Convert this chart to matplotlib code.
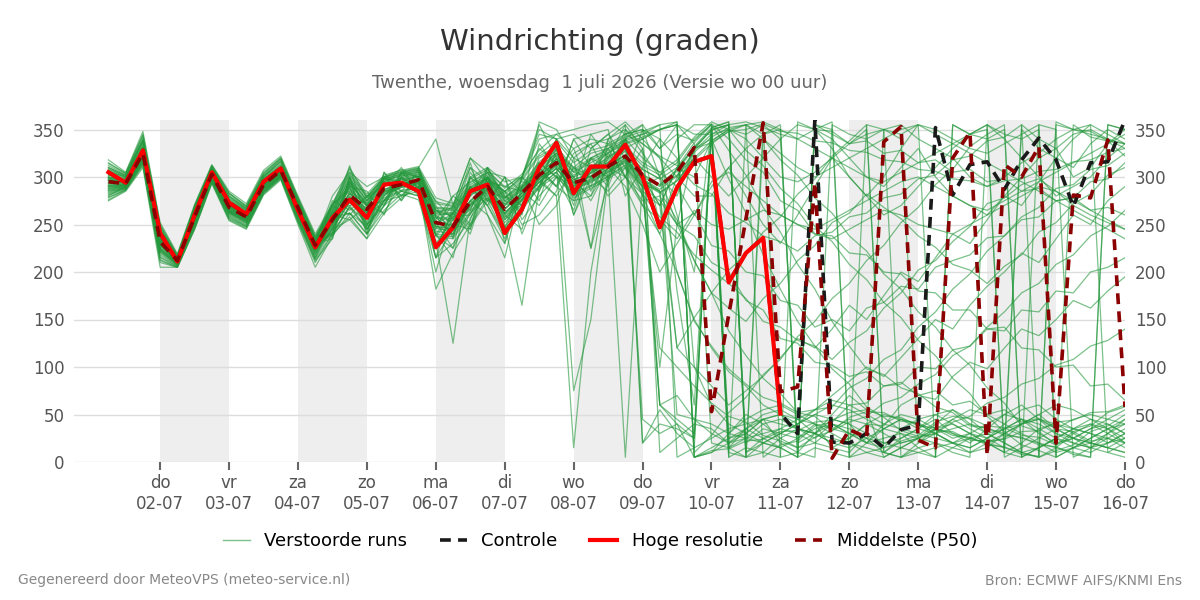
import matplotlib
matplotlib.use('Agg')
import matplotlib.pyplot as plt
from matplotlib.lines import Line2D
import pandas as pd

# ---------------- data ----------------
times = pd.date_range('2026-07-01 06:00', periods=60, freq='6h')
day_ticks = pd.date_range('2026-07-02', '2026-07-16', freq='D')
day_names = ['do', 'vr', 'za', 'zo', 'ma', 'di', 'wo', 'do', 'vr', 'za', 'zo', 'ma', 'di', 'wo', 'do']
shade_days = day_ticks[0:14:2]

hres = [305,294,328,241,211,260,305,273,261,295, 309,265,226,257,276,257,292,294,285,226,
        247,285,292,241,266,310,336,283,311,311, 334,300,247,289,316,322,189,220,236,51]

control = hres[:40] + [30,360,21,20,30,15,34,39,352,281, 313,316,287,318,341,318,269,315,316,360]

p50 = [295,293,325,232,212,258,303,268,258,292, 307,268,228,255,281,266,288,292,297,252,
       248,274,290,266,283,302,315,294,299,311, 322,302,291,305,331,53,155,256,357,74,
       79,294,4,34,26,337,353,23,15,320, 347,7,313,300,332,20,281,278,339,58]

# each member: 60 six-hourly values (deg)
members = [
 [298,294,328,235,211,260,305,270,259,294,309,266,226, 248,292,258,280,300,290,240,262,285,300,255,275,320,330,285,310,325,340,320,305,290,330, 350,355,20,35,30,25,40,15,10,30,350,340,20,30,45,35,25,15,355,340,330,300,310,335,350],
 [290,291,322,228,213,255,300,265,255,290,305,262,230, 262,270,275,295,285,305,258,240,300,285,278,295,290,325,310,300,330,345,355,10,25,40, 35,20,30,45,50,35,25,40,30,20,15,35,45,50,40,30,25,35,45,30,20,25,35,40,30],
 [305,300,335,240,214,265,308,275,265,298,312,272,232, 240,300,262,272,305,288,230,255,265,305,280,260,335,310,300,320,330,300,282,258,242,218, 202,188,172,148,142,128,122,108,126,138,162,178,202,212,232,248,272,278,292,298,285,270,260,252,245],
 [285,288,318,222,208,252,298,262,252,286,302,258,220, 258,262,240,265,282,276,215,270,250,295,290,285,298,280,310,290,340,355,20,40,35,25, 345,5,15,10,25,35,30,45,40,20,25,30,15,5,355,345,350,10,20,35,40,30,20,15,25],
 [310,302,340,245,216,268,310,280,268,302,318,275,235, 270,305,280,300,308,300,262,268,310,295,285,300,350,340,345,330,345,358,340,320,300,280, 280,310,330,345,355,5,350,340,320,300,290,310,330,300,280,270,260,280,300,320,330,345,350,340,330],
 [280,290,315,215,206,248,296,258,248,284,300,255,215, 245,275,250,275,280,295,238,225,262,278,255,275,295,280,15,200,305,315,290,60,70,45, 30,20,35,50,55,45,30,20,25,40,50,45,35,30,20,15,25,40,55,60,45,35,30,20,25],
 [300,297,332,238,212,262,304,272,262,295,308,270,232, 272,285,270,298,295,302,265,250,280,300,270,290,310,325,305,300,315,330,340,350,355,345, 345,350,340,320,300,295,305,320,335,345,350,355,340,330,320,300,290,300,315,325,340,350,355,345,335],
 [292,292,326,230,210,258,302,268,258,292,306,266,228, 255,295,270,290,298,282,250,262,290,270,235,290,300,305,330,285,320,335,300,60,40,25, 350,15,5,355,340,20,30,40,35,25,10,5,20,35,40,30,20,10,350,330,320,340,355,10,20],
 [315,304,345,250,218,270,312,283,270,305,320,278,238, 270,310,278,300,306,310,340,270,320,305,290,300,340,345,330,340,335,345,350,300,250,212, 178,162,148,172,188,212,228,252,262,282,268,256,238,226,208,202,188,206,218,242,252,272,282,302,310],
 [276,286,312,210,205,245,294,255,246,282,298,252,210, 240,258,235,262,278,290,215,230,255,300,250,165,290,305,280,290,300,312,285,270,120,100, 80,60,75,90,110,130,120,140,165,150,175,200,190,215,240,230,255,280,270,295,320,310,335,350,340],
 [297,293,327,233,211,259,303,269,259,293,307,268,229, 256,283,266,287,293,298,252,250,275,291,267,283,301,317,294,301,313,323,303,292,308,332, 352,358,10,20,15,5,355,345,335,350,10,25,35,45,30,20,35,50,60,45,30,20,15,30,45],
 [288,290,320,225,209,254,299,264,254,288,303,262,224, 242,268,245,280,298,292,225,265,248,275,300,240,285,320,275,310,300,5,298,285,255,212, 178,138,112,88,72,52,48,33,42,48,62,68,82,92,112,122,142,158,178,188,208,218,238,248,265],
 [302,298,330,236,213,262,305,272,262,296,310,270,231, 265,300,275,295,302,300,265,258,282,310,280,270,358,350,320,335,340,350,325,300,340,355, 355,25,30,20,15,25,35,40,30,20,40,50,45,35,25,30,20,25,40,50,35,25,20,30,40],
 [294,292,324,230,210,257,301,267,257,291,305,265,227, 250,278,262,284,290,295,248,240,270,285,262,280,315,300,290,305,322,330,280,240,200,150, 120,95,80,60,50,40,55,70,85,100,90,110,130,150,140,165,185,200,220,210,235,260,250,275,290],
 [308,301,338,243,215,266,309,278,266,300,316,274,234, 263,295,273,297,303,307,265,265,288,299,277,290,310,325,305,315,325,335,340,350,355,10, 28,52,68,92,108,132,148,172,188,212,228,252,268,292,308,332,345,355,5,15,25,20,15,10,5],
 [283,288,317,220,207,251,297,261,251,285,301,257,218, 246,273,257,281,289,293,238,235,262,283,257,276,294,309,287,294,305,316,293,285,120,152, 178,202,218,242,258,282,298,322,338,355,10,22,28,42,48,46,38,36,28,26,18,32,38,52,58],
 [299,295,329,236,211,261,304,271,261,294,308,269,230, 238,270,245,275,300,305,250,270,320,295,260,245,305,290,340,345,320,355,330,60,45,30, 348,10,5,20,30,40,50,45,40,30,20,25,35,50,55,40,30,20,10,5,15,30,40,35,20],
 [291,291,325,229,210,257,301,266,257,291,305,264,225, 252,280,263,285,292,296,248,246,272,288,262,280,298,313,291,298,309,320,300,290,302,320, 300,280,300,320,340,355,350,330,300,280,260,270,290,310,330,345,355,340,320,300,280,290,300,320,335],
 [312,303,342,248,217,269,311,282,269,303,319,277,236, 268,302,278,299,305,309,272,269,292,302,282,296,322,332,310,325,330,340,345,350,355,5, 10,20,25,30,35,45,55,65,60,50,40,35,30,25,20,30,40,50,45,35,25,15,10,20,30],
 [278,287,313,212,205,246,295,256,247,283,299,253,212, 235,300,245,270,300,280,240,215,290,270,240,300,275,330,260,300,285,310,270,240,290,260, 295,305,290,275,260,250,245,255,265,275,285,295,300,290,280,270,265,275,285,295,305,315,325,335,345],
 [296,293,326,232,211,258,302,268,258,292,306,267,228, 255,282,265,286,293,297,251,249,274,290,266,283,301,316,294,301,312,322,45,30,40,5, 10,30,50,40,25,15,20,35,45,40,30,20,25,40,55,45,30,20,10,15,25,35,40,30,20],
 [286,289,319,223,208,253,298,263,253,287,302,260,222, 260,290,240,270,285,280,225,250,290,270,300,255,280,300,265,320,310,290,250,200,230,260, 290,310,280,250,230,260,290,320,300,280,300,330,355,350,340,330,325,335,345,355,5,15,25,35,40],
 [304,299,333,239,214,264,307,274,264,298,311,271,233, 260,288,270,293,299,303,258,256,283,296,272,287,304,319,297,304,316,328,308,298,200,148, 122,98,82,68,62,52,55,58,78,88,108,118,142,158,182,198,222,238,258,268,288,292,308,312,325],
 [290,290,323,228,210,256,300,265,256,290,304,263,226, 270,260,280,270,300,285,260,262,245,310,275,265,290,320,300,225,295,345,350,340,320,100, 60,40,30,45,20,10,30,50,70,55,5,15,25,35,30,25,20,15,10,5,355,350,345,340,335],
 [318,305,348,252,219,271,313,285,272,307,322,280,240, 272,308,282,302,307,311,278,272,298,308,288,303,328,345,350,355,358,345,335,322,312,292, 282,262,252,238,232,222,238,242,258,262,278,282,298,302,318,322,338,342,355,5,12,18,32,38,50],
 [275,285,310,205,205,245,293,254,245,281,297,250,205, 238,262,248,276,285,289,182,220,250,278,248,268,288,302,278,288,298,310,282,120,100,80, 62,48,42,28,22,15,26,33,47,53,52,43,41,33,32,23,22,24,32,33,42,44,52,53,60],
 [298,294,328,234,212,260,304,270,260,294,308,268,230, 257,312,250,305,285,280,225,262,240,298,285,250,260,285,340,310,280,300,350,330,355,335, 20,15,25,40,45,35,30,20,15,25,35,45,40,30,20,10,15,30,40,45,35,25,15,20,30],
 [289,290,321,226,209,255,299,264,255,289,304,262,224, 251,278,262,284,291,295,246,243,270,287,261,279,297,311,75,150,300,319,297,285,50,45, 40,30,25,20,30,40,50,60,55,45,35,30,25,20,15,10,20,30,40,50,60,55,45,35,25],
 [306,300,336,241,214,265,308,276,265,299,313,273,233, 262,292,271,295,301,305,262,260,286,298,274,288,306,322,300,308,318,330,312,302,315,340, 355,328,302,268,242,208,182,148,122,98,92,78,72,58,52,38,36,28,26,18,16,8,5,355,350],
 [282,288,316,218,207,250,297,260,250,285,300,256,216, 260,255,270,262,295,300,228,250,245,300,245,265,310,290,275,280,325,300,270,255,235,265, 250,245,255,265,260,250,240,235,245,255,265,260,250,245,240,250,260,270,280,290,285,275,265,255,245],
 [300,296,330,236,212,261,305,271,261,295,309,269,230, 235,300,240,305,275,310,260,245,300,310,230,300,345,340,290,345,350,280,310,340,180,60, 352,5,355,345,350,5,15,10,5,355,350,345,355,5,15,25,20,10,5,355,350,5,15,25,35],
 [293,291,324,230,210,257,301,266,257,291,305,265,227, 242,295,270,275,305,288,238,258,260,300,285,270,290,340,280,305,335,310,290,300,280,330, 340,298,262,218,182,148,122,98,82,58,47,33,27,30,42,48,62,68,82,88,102,108,122,128,140],
 [310,302,339,246,216,267,310,280,267,301,317,275,236, 266,298,276,298,304,308,268,267,290,300,279,292,316,330,308,320,328,338,345,355,5,15, 25,35,40,45,50,45,40,35,30,25,20,15,10,5,355,345,340,350,5,15,25,35,45,40,30],
 [284,289,318,221,208,252,297,262,252,286,301,258,219, 247,274,258,282,289,293,240,237,264,284,258,277,295,309,288,295,306,317,294,283,296,318, 335,348,350,356,348,346,338,336,328,326,318,316,308,306,298,296,290,296,298,306,308,316,318,326,330],
 [297,294,327,233,211,259,303,269,259,293,307,267,229, 270,290,285,260,305,300,270,235,305,280,245,300,355,320,270,330,345,320,290,100,250,330, 350,355,5,340,318,302,278,262,238,222,198,182,158,142,118,102,78,62,38,32,18,25,35,45,55],
 [302,297,331,237,213,262,305,273,262,296,310,270,231, 259,287,269,291,297,301,257,254,280,294,270,286,304,319,297,304,315,327,308,298,310,336, 355,30,45,55,60,50,40,30,20,10,5,15,25,35,45,55,50,40,30,20,10,15,25,35,45],
 [288,290,321,225,209,254,299,264,254,288,303,261,223, 245,285,248,295,280,300,258,238,285,275,272,268,300,330,260,310,290,335,300,270,310,300, 338,350,355,340,325,310,300,310,320,330,340,350,355,345,335,325,315,305,295,285,275,265,255,245,235],
 [294,292,325,231,210,257,302,267,257,292,306,266,227, 245,255,235,300,280,285,200,262,315,260,215,290,250,270,320,225,340,300,330,250,300,328, 345,355,10,25,35,30,20,15,25,40,38,60,70,66,90,105,98,120,140,133,150,170,162,180,195],
 [307,300,337,242,215,266,309,277,266,300,314,273,234, 263,293,272,296,302,306,264,262,287,298,275,289,308,323,302,310,320,332,315,305,318,342, 358,350,345,355,5,10,5,355,345,340,350,5,15,20,10,5,355,345,340,350,5,15,20,15,10],
 [281,287,315,216,206,249,296,259,249,284,300,255,214, 255,262,240,300,275,298,215,245,275,260,230,285,270,300,300,275,310,300,275,280,250,262, 228,222,200,196,170,165,142,150,138,162,168,185,182,205,212,218,236,238,255,258,275,278,295,298,315],
 [299,295,328,235,211,260,304,270,260,294,308,268,229, 275,265,280,290,310,285,245,280,295,305,300,285,310,290,325,335,300,340,20,55,30,15, 351,15,35,25,15,5,355,350,5,20,35,45,40,30,20,15,25,35,45,40,30,25,20,15,10],
 [291,291,324,228,210,256,300,265,256,290,304,263,225, 252,279,263,285,291,296,248,245,271,288,262,280,298,312,290,297,309,320,298,287,301,326, 342,352,355,358,350,340,330,320,310,300,295,305,315,325,335,345,355,5,15,25,35,45,50,45,40],
 [314,304,344,249,217,269,312,283,269,304,320,278,237, 269,303,279,300,305,309,274,270,294,304,284,298,324,338,315,328,333,342,348,355,358,5, 15,25,35,45,40,35,30,25,20,15,10,5,10,15,20,25,30,35,40,45,40,35,30,25,20],
 [279,286,314,213,205,247,295,257,248,283,299,254,213, 241,268,253,278,286,290,233,125,257,281,252,272,291,305,283,291,301,313,289,275,250,238, 210,200,170,160,130,125,105,102,90,95,80,84,70,75,60,64,50,55,42,46,35,32,22,25,15],
 [296,293,327,232,211,258,302,268,258,292,306,267,228, 255,283,265,287,293,297,251,249,275,291,266,283,301,316,293,300,312,323,302,291,306,331, 349,355,358,352,345,340,350,358,5,10,15,20,25,30,35,40,35,30,25,20,15,10,5,355,350],
 [303,298,332,238,213,263,306,274,263,297,311,271,232, 280,305,290,300,295,290,255,280,265,310,295,300,330,315,295,280,310,340,355,330,345,338, 356,340,318,305,275,265,240,238,220,218,200,198,180,178,160,160,140,142,120,118,100,102,80,82,65],
 [287,290,320,224,209,254,299,263,254,288,303,261,222, 258,290,245,275,298,300,252,225,300,275,240,262,315,300,282,320,295,340,300,270,310,330, 336,348,355,5,18,22,38,42,60,62,80,82,100,98,118,122,140,138,160,158,180,178,200,205,215],
 [300,296,329,236,212,261,304,271,261,295,309,269,230, 240,295,250,270,305,300,275,255,310,275,285,300,285,340,320,310,300,350,335,320,260,200, 352,358,5,10,5,358,350,348,335,338,325,328,315,318,305,308,295,298,285,288,275,278,265,268,260],
 [309,301,339,245,216,267,310,279,267,301,316,275,235, 265,297,275,298,303,307,267,266,289,300,278,291,314,328,306,318,326,336,342,350,358,5, 12,14,22,24,32,33,42,44,52,55,48,47,38,36,28,26,18,16,8,6,358,350,348,338,335],
 [286,289,319,223,208,253,298,263,253,287,302,260,221, 249,276,260,283,290,294,243,240,268,286,260,277,295,309,288,296,307,318,296,284,296,320, 338,350,328,312,288,272,248,232,208,192,168,152,128,112,88,72,48,32,18,12,5,355,342,338,322],
]

for k, m in enumerate(members):
    assert len(m) == 60, (k + 1, len(m))
assert len(p50) == 60 and len(control) == 60 and len(hres) == 40

# ---------------- figure ----------------
fig = plt.figure(figsize=(12, 6), dpi=100)
ax = fig.add_axes([74 / 1200, 1 - 462 / 600, (1125 - 74) / 1200, (462 - 120) / 600])

for d in shade_days:
    ax.axvspan(d, d + pd.Timedelta(days=1), color='#eeeeee', zorder=0, lw=0)

green = '#24983c'
for m in members:
    ax.plot(times, m, color=green, alpha=0.6, lw=0.9, zorder=2)

ax.plot(times, control, color='#1a1a1a', lw=2.6, ls=(0, (3, 2)), zorder=3)
ax.plot(times[:len(hres)], hres, color='#ff0000', lw=3, zorder=4)
ax.plot(times, p50, color='#8b0000', lw=2.6, ls=(0, (3, 2)), zorder=5)

ax.set_xlim(pd.Timestamp('2026-06-30 18:00'), pd.Timestamp('2026-07-16 00:00'))
ax.set_ylim(0, 360)
ax.set_yticks(range(0, 351, 50))
ax.set_xticks(day_ticks)
ax.set_xticklabels([f'{n}\n{t:%d-%m}' for n, t in zip(day_names, day_ticks)], linespacing=1.2)
ax.yaxis.grid(True, color='#dddddd', lw=1, zorder=0.5)
ax.set_axisbelow(True)
for s in ax.spines.values():
    s.set_visible(False)
ax.tick_params(axis='y', length=0, labelsize=12, labelcolor='#555555', labelright=True, pad=7)
ax.tick_params(axis='x', length=6, width=1.5, color='#666666', labelsize=12, labelcolor='#555555', pad=3)

fig.text(0.5, 1 - 42 / 600, 'Windrichting (graden)', ha='center', va='center', fontsize=21, color='#333333')
fig.text(0.5, 1 - 83 / 600, 'Twenthe, woensdag  1 juli 2026 (Versie wo 00 uur)', ha='center', va='center',
         fontsize=13, color='#666666')

handles = [Line2D([], [], color=green, alpha=0.6, lw=1),
           Line2D([], [], color='#1a1a1a', lw=2.6, ls=(0, (3, 2))),
           Line2D([], [], color='#ff0000', lw=3),
           Line2D([], [], color='#8b0000', lw=2.6, ls=(0, (3, 2)))]
labels = ['Verstoorde runs', 'Controle', 'Hoge resolutie', 'Middelste (P50)']
fig.legend(handles, labels, loc='center', bbox_to_anchor=(0.5, 1 - 541 / 600), ncol=4, frameon=False,
           fontsize=13, handlelength=1.5, handletextpad=0.8, columnspacing=1.8)

fig.text(18 / 1200, 1 - 580 / 600, 'Gegenereerd door MeteoVPS (meteo-service.nl)', ha='left', va='center',
         fontsize=10, color='#888888')
fig.text(1182 / 1200, 1 - 580 / 600, 'Bron: ECMWF AIFS/KNMI Ens', ha='right', va='center',
         fontsize=10, color='#888888')

fig.savefig('out.png', dpi=100)
